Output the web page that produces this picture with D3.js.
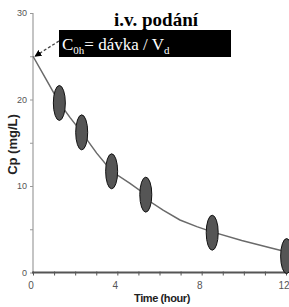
<!DOCTYPE html>
<html>
<head>
<meta charset="utf-8">
<script src="https://cdn.jsdelivr.net/npm/d3@7"></script>
<style>
  html, body { margin: 0; padding: 0; background: #fff; }
  #chart { width: 289px; height: 307px; }
</style>
</head>
<body>
<div id="chart"></div>
<script>
// measured samples (hour, mg/L)
const sampleTimes = [1.25, 2.31, 3.73, 5.35, 8.5, 12.03];
const sampleConc = [19.6, 16.2, 11.7, 9.0, 4.6, 1.9];

// fitted curve
const curveTimes = [0, 0.65, 1.25, 1.76, 2.31, 3.02, 3.73, 4.6, 5.35, 5.55, 6.17, 6.97, 7.77, 8.5, 9.9, 11.2, 12.0];
const curveConc = [25, 22.2, 19.6, 17.9, 16.2, 13.8, 11.7, 10.3, 9.0, 8.2, 7.2, 6.07, 5.3, 4.7, 3.7, 2.9, 2.4];

const c0 = 25;
const xTickLabels = [0, 4, 8, 12];
const yTickLabels = [0, 10, 20, 30];

const width = 289, height = 307;

const svg = d3.select("#chart")
    .append("svg")
    .attr("width", width)
    .attr("height", height)
    .style("display", "block");

const x = d3.scaleLinear().domain([0, 12]).range([33, 286]);
const y = d3.scaleLinear().domain([0, 30]).range([272.5, 13]);

// y axis (light grey)
const yAxis = svg.append("g")
    .attr("transform", `translate(${x(0)},0)`)
    .call(d3.axisLeft(y).tickValues(d3.range(0, 31, 5)).tickSize(3).tickFormat(""));
yAxis.select(".domain").attr("stroke", "#c4c4c4").attr("stroke-width", 2).attr("d", `M0,${y(30)}V${y(0)}`);
yAxis.selectAll(".tick line").attr("stroke", "#999");

svg.append("g").selectAll("text")
    .data(yTickLabels)
    .join("text")
    .attr("x", 27)
    .attr("y", d => y(d) + 3)
    .attr("text-anchor", "end")
    .attr("fill", "#555")
    .style("font-family", "Liberation Sans, Arial, sans-serif")
    .style("font-size", "9px")
    .text(d => d);

// x axis (dark)
const xAxis = svg.append("g")
    .attr("transform", `translate(0,${y(0)})`)
    .call(d3.axisBottom(x).ticks(12).tickSize(3).tickFormat(""));
xAxis.select(".domain").attr("stroke", "#555").attr("stroke-width", 2).attr("d", `M${x(0) - 1},0H${x(12) + 1}`);
xAxis.selectAll(".tick line").attr("stroke", "#555").attr("y1", -1);

svg.append("g").selectAll("text")
    .data(xTickLabels)
    .join("text")
    .attr("x", d => x(d) - 2)
    .attr("y", 289)
    .attr("text-anchor", "middle")
    .attr("fill", "#555")
    .style("font-family", "Liberation Sans, Arial, sans-serif")
    .style("font-size", "10px")
    .text(d => d);

// axis titles
svg.append("text")
    .attr("x", 162)
    .attr("y", 302)
    .attr("text-anchor", "middle")
    .attr("fill", "#222")
    .style("font-family", "Liberation Sans, Arial, sans-serif")
    .style("font-size", "11px")
    .style("font-weight", "bold")
    .style("letter-spacing", "-0.4px")
    .text("Time (hour)");

svg.append("text")
    .attr("transform", "translate(16.5,144.5) rotate(-90)")
    .attr("text-anchor", "middle")
    .attr("fill", "#222")
    .style("font-family", "Liberation Sans, Arial, sans-serif")
    .style("font-size", "13px")
    .style("font-weight", "bold")
    .text("Cp (mg/L)");

// concentration curve
const line = d3.line()
    .x(d => x(d[0]))
    .y(d => y(d[1]))
    .curve(d3.curveLinear);

svg.append("path")
    .datum(d3.zip(curveTimes, curveConc))
    .attr("fill", "none")
    .attr("stroke", "#6a6a6a")
    .attr("stroke-width", 1.5)
    .attr("d", line);

// sample ellipses
svg.append("g").selectAll("ellipse")
    .data(d3.zip(sampleTimes, sampleConc))
    .join("ellipse")
    .attr("cx", d => x(d[0]))
    .attr("cy", d => y(d[1]))
    .attr("rx", 6)
    .attr("ry", 17.5)
    .attr("fill", "#555")
    .attr("stroke", "#111")
    .attr("stroke-width", 1);

// title
svg.append("text")
    .attr("x", 156)
    .attr("y", 26)
    .attr("text-anchor", "middle")
    .attr("fill", "#000")
    .style("font-family", "Liberation Serif, Times New Roman, serif")
    .style("font-size", "19px")
    .style("font-weight", "bold")
    .text("i.v. podání");

// annotation box
svg.append("rect")
    .attr("x", 59)
    .attr("y", 30)
    .attr("width", 172)
    .attr("height", 27)
    .attr("fill", "#000");

const label = svg.append("text")
    .attr("x", 62)
    .attr("y", 50)
    .attr("fill", "#fff")
    .style("font-family", "Liberation Serif, Times New Roman, serif")
    .style("font-size", "17px");
label.append("tspan").text("C");
label.append("tspan").attr("dy", 4).style("font-size", "11px").text("0h");
label.append("tspan").attr("dy", -4).text("= dávka / V");
label.append("tspan").attr("dy", 4).style("font-size", "11px").text("d");

// arrow to C0
svg.append("defs").append("marker")
    .attr("id", "arrow")
    .attr("viewBox", "0 0 10 10")
    .attr("refX", 9)
    .attr("refY", 5)
    .attr("markerWidth", 7)
    .attr("markerHeight", 7)
    .attr("markerUnits", "userSpaceOnUse")
    .attr("orient", "auto")
    .append("path")
    .attr("d", "M0,0L10,5L0,10z")
    .attr("fill", "#000");

svg.append("line")
    .attr("x1", 59)
    .attr("y1", 41)
    .attr("x2", x(0) + 2)
    .attr("y2", y(c0))
    .attr("stroke", "#444")
    .attr("stroke-width", 1.3)
    .attr("stroke-dasharray", "3,2")
    .attr("marker-end", "url(#arrow)");
</script>
</body>
</html>
